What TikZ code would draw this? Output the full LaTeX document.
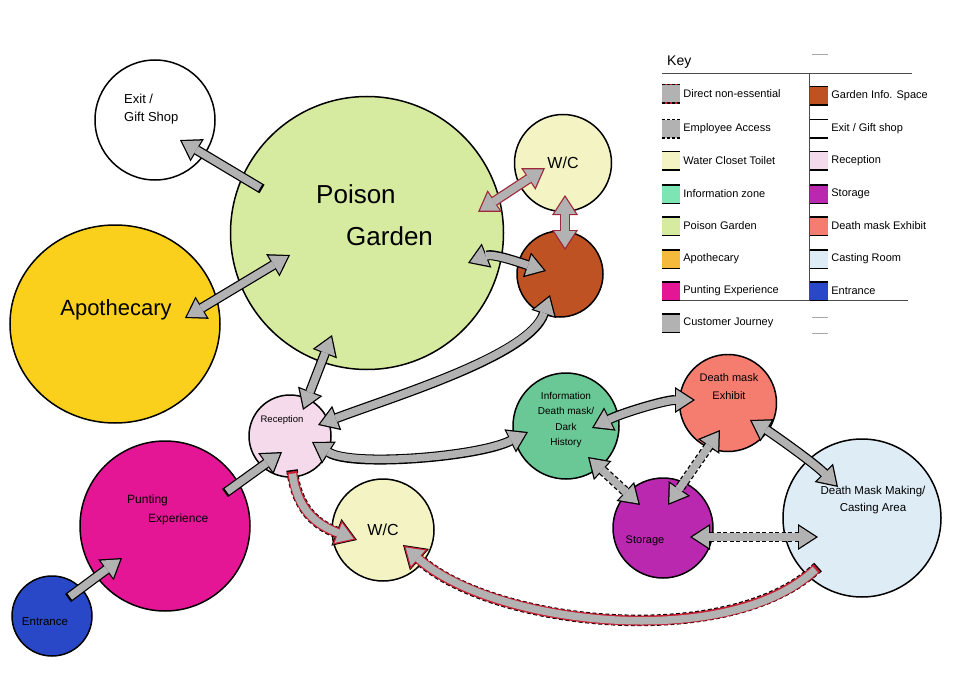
\documentclass[tikz,border=0pt]{standalone}
\usepackage{fontspec}
\setmainfont{Liberation Sans}
\usetikzlibrary{arrows.meta,calc,shapes.geometric,positioning}
\definecolor{pgc}{RGB}{214,234,160}
\definecolor{wcc}{RGB}{243,243,196}
\definecolor{gic}{RGB}{190,82,35}
\definecolor{apc}{RGB}{250,208,28}
\definecolor{apk}{RGB}{245,185,60}
\definecolor{rcc}{RGB}{245,218,236}
\definecolor{puc}{RGB}{228,22,150}
\definecolor{enc}{RGB}{40,72,200}
\definecolor{izc}{RGB}{105,200,150}
\definecolor{izk}{RGB}{125,228,180}
\definecolor{dmc}{RGB}{245,125,112}
\definecolor{stc}{RGB}{185,40,175}
\definecolor{csc}{RGB}{222,236,246}
\definecolor{arc}{RGB}{178,178,178}
\definecolor{rdc}{RGB}{200,30,50}
\definecolor{mrc}{RGB}{160,40,60}
\tikzset{
  room/.style={circle, draw=black, line width=1.5pt, inner sep=0pt},
  lbl/.style={inner sep=0pt, align=center},
  cja/.style={draw=black, line width=10pt, >={Triangle[length=20pt,width=26pt,line width=0pt]}},
  cjb/.style={draw=arc, line width=7.5pt, shorten >=2.3pt, shorten <=2.3pt, >={Triangle[length=16.5pt,width=21.4pt,line width=0pt]}},
  rsa/.style={cja, draw=mrc},
  ema/.style={cja, dash pattern=on 4pt off 2.5pt},
  dna/.style={draw=black, dash pattern=on 4pt off 2.5pt, line width=11.5pt, >={Triangle[length=22pt,width=28.6pt,line width=0pt]}},
  dnb/.style={draw=rdc, line width=10pt, shorten >=1.38pt, shorten <=1.38pt, >={Triangle[length=19.9pt,width=25.8pt,line width=0pt]}},
  dnc/.style={draw=arc, line width=7.5pt, shorten >=3.67pt, shorten <=3.67pt, >={Triangle[length=16.3pt,width=21.2pt,line width=0pt]}},
  swatch/.style={minimum width=18pt, minimum height=18pt, inner sep=0pt, draw=none},
  swl/.style={draw=black, line width=1.4pt},
  swdash/.style={draw=black, line width=1.4pt, dash pattern=on 3pt off 2pt},
  swred/.style={draw=rdc, line width=1.4pt, postaction={draw=black, line width=1.4pt, dash pattern=on 3pt off 2pt}},
  keytext/.style={inner sep=0pt, anchor=west, font=\fontsize{11}{13}\selectfont},
  keyframe/.style={draw=black!70, line width=0.7pt},
}
\newcommand\cjarrow[2]{\draw[cja,#1]#2;\draw[cjb,#1]#2;}
\newcommand\rsarrow[2]{\draw[rsa,#1]#2;\draw[cjb,#1]#2;}
\newcommand\emarrow[2]{\draw[ema,#1]#2;\draw[cjb,#1]#2;}
\newcommand\dnarrow[2]{\draw[dna,#1]#2;\draw[dnb,#1]#2;\draw[dnc,#1]#2;}
\newcommand\keyrow[6]{\node[swatch,fill=#4] (#1) at (#2,#3) {};
  \draw[#5] (#1.north west) -- (#1.north east) (#1.south west) -- (#1.south east);
  \node[keytext, right=3pt of #1] (#1t) {#6};}
\begin{document}
\begin{tikzpicture}[x=1pt,y=-1pt]
\useasboundingbox[fill=white] (0,0) rectangle (980,674);
% rooms
\node[room, fill=white, minimum size=120pt] (ex) at (155,120) {};
\node[lbl, align=left, anchor=west, font=\fontsize{13}{18}\selectfont] (ext) at (124,109) {Exit /\\Gift Shop};
\node[room, fill=pgc, minimum size=273pt] (pg) at (367,233) {};
\node[lbl, align=left, anchor=west, font=\fontsize{26}{42}\selectfont] (pgt) at (316,215) {Poison\\\hspace*{30pt}Garden};
\node[room, ellipse, fill=apc, minimum width=210pt, minimum height=198pt] (ap) at (115,324) {};
\node[lbl, font=\fontsize{22}{26}\selectfont] (apt) at (116,310) {Apothecary};
\node[room, fill=wcc, minimum size=97pt, font=\fontsize{16}{18}\selectfont] (wc1) at (563,163) {W/C};
\node[room, fill=gic, minimum size=86pt] (gi) at (560,274) {};
\node[room, fill=rcc, minimum size=82pt] (rc) at (290,436) {};
\node[lbl, font=\fontsize{9.5}{11}\selectfont] (rct) at (282,420) {Reception};
\node[room, fill=puc, minimum size=170pt] (pu) at (165,526) {};
\node[lbl, align=left, anchor=west, font=\fontsize{12}{19}\selectfont] (put) at (127,510) {Punting\\\hspace*{21pt}Experience};
\node[room, fill=enc, minimum size=80pt] (en) at (52,616) {};
\node[lbl, font=\fontsize{11.5}{13}\selectfont] (ent) at (45,622) {Entrance};
\node[room, fill=wcc, minimum size=102pt, font=\fontsize{16}{18}\selectfont] (wc2) at (383,530) {W/C};
\node[room, fill=izc, minimum size=106pt] (iz) at (566,426) {};
\node[lbl, font=\fontsize{10}{15.5}\selectfont] (izt) at (566,420) {Information\\Death mask/\\Dark\\History};
\node[room, fill=dmc, minimum size=97pt] (dm) at (728,403) {};
\node[lbl, font=\fontsize{11}{18}\selectfont] (dmt) at (729,387) {Death mask\\Exhibit};
\node[room, fill=stc, minimum size=100pt] (st) at (663,528) {};
\node[lbl, font=\fontsize{11}{13}\selectfont] (stt) at (645,541) {Storage};
\node[room, fill=csc, minimum size=158pt] (ca) at (862,518) {};
\node[lbl, font=\fontsize{11.5}{17}\selectfont] (cat) at (873,500) {Death Mask Making/\\Casting Area};
% connectors
\cjarrow{->}{($(pg)+(-105,-44)$) -- ($(ex)+(25,20)$)}
\cjarrow{<->}{($(ap)+(70,-6)$) -- ($(pg)+(-77,22)$)}
\rsarrow{<->}{($(pg)+(111,-21)$) -- ($(wc1)+(-18,5)$)}
\rsarrow{<->}{($(wc1)+(2,32)$) -- ($(gi)+(5,-24)$)}
\cjarrow{<->}{($(pg)+(101,30)$) .. controls +(25,-10) and +(-25,-8) .. ($(gi)+(-14,-3)$)}
\cjarrow{<->}{($(pg)+(-35,102)$) -- ($(rc)+(13,-26)$)}
\cjarrow{<->}{($(gi)+(-10,21)$) .. controls +(-20,60) and +(80,-30) .. ($(rc)+(28,-11)$)}
\cjarrow{<->}{($(rc)+(22,6)$) .. controls +(40,25) and +(-50,25) .. ($(iz)+(-38,6)$)}
\cjarrow{->}{($(pu)+(60,-33)$) -- ($(rc)+(-8,16)$)}
\cjarrow{->}{($(en)+(16,-18)$) -- ($(pu)+(-43,32)$)}
\dnarrow{->}{($(rc)+(2,34)$) .. controls +(5,40) and +(-40,-15) .. ($(wc2)+(-26,10)$)}
\cjarrow{<->}{($(iz)+(26,2)$) .. controls +(30,-15) and +(-30,0) .. ($(dm)+(-33,-3)$)}
\cjarrow{<->}{($(dm)+(22,17)$) .. controls +(20,12) and +(-25,-25) .. ($(ca)+(-24,-31)$)}
\emarrow{<->}{($(iz)+(22,31)$) -- ($(st)+(-23,-23)$)}
\emarrow{<->}{($(dm)+(-8,27)$) -- ($(st)+(5,-23)$)}
\emarrow{<->}{($(st)+(27,9)$) -- ($(ca)+(-44,19)$)}
\dnarrow{->}{($(ca)+(-44,49)$) .. controls +(-90,85) and +(90,80) .. ($(wc2)+(20,15)$)}
% key
\node[inner sep=0pt, anchor=west, font=\fontsize{14}{16}\selectfont] (keyt) at (667,62) {Key};
\draw[keyframe] (662,73) -- (912,73);
\draw[keyframe] (809,73) -- (809,300);
\draw[keyframe] (662,300) -- (908,300);
\draw[draw=black!35, line width=1pt] (812,55) -- (828,55) (812,317) -- (828,317) (812,333) -- (828,333);
\keyrow{k1}{671}{94}{arc}{swred}{Direct non-essential}
\keyrow{k2}{671}{129}{arc}{swdash}{Employee Access}
\keyrow{k3}{671}{161}{wcc}{swl}{Water Closet Toilet}
\keyrow{k4}{671}{194}{izk}{swl}{Information zone}
\keyrow{k5}{671}{226}{pgc}{swl}{Poison Garden}
\keyrow{k6}{671}{259}{apk}{swl}{Apothecary}
\keyrow{k7}{671}{291}{puc}{swl}{Punting Experience}
\keyrow{k8}{671}{323}{arc}{swl}{Customer Journey}
\keyrow{k9}{819}{96}{gic}{swl}{Garden Info. Space}
\keyrow{k10}{819}{129}{white}{swl}{Exit / Gift shop}
\keyrow{k11}{819}{161}{rcc}{swl}{Reception}
\keyrow{k12}{819}{194}{stc}{swl}{Storage}
\keyrow{k13}{819}{226}{dmc}{swl}{Death mask Exhibit}
\keyrow{k14}{819}{259}{csc}{swl}{Casting Room}
\keyrow{k15}{819}{291}{enc}{swl}{Entrance}
\end{tikzpicture}
\end{document}
